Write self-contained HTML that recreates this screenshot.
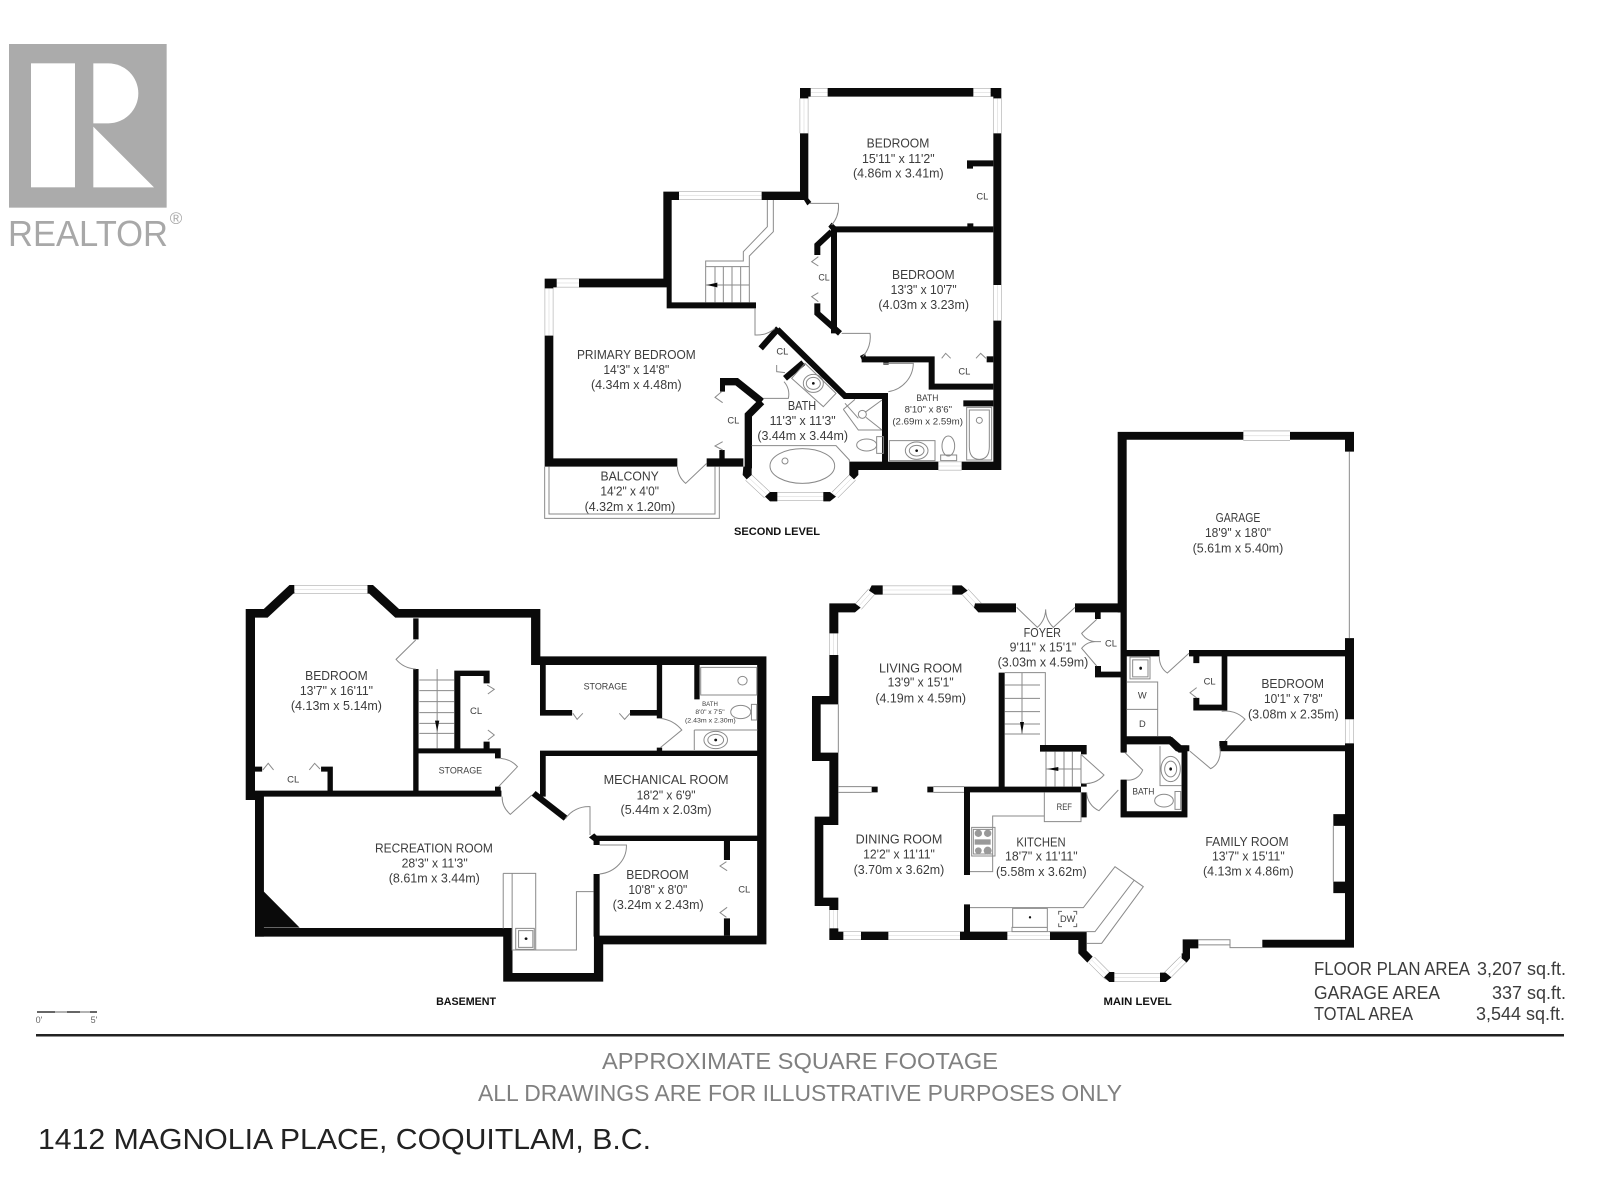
<!DOCTYPE html>
<html><head><meta charset="utf-8"><title>1412 Magnolia Place floor plan</title>
<style>
html,body{margin:0;padding:0;background:#fff}
svg{display:block}
text{font-family:"Liberation Sans",sans-serif;fill:#3c3c3c;text-anchor:middle}
.b{fill:#0a0a0a;stroke:none}
.s{fill:none;stroke:#0a0a0a;stroke-linejoin:miter}
.t{fill:none;stroke:#8a8a8a;stroke-width:1;vector-effect:non-scaling-stroke}
.k{fill:none;stroke:#666;stroke-width:1;vector-effect:non-scaling-stroke}
.wa{fill:none;stroke:#999;stroke-width:26}
.wb{fill:none;stroke:#fff;stroke-width:23}
.wc{fill:none;stroke:#bbb;stroke-width:1;vector-effect:non-scaling-stroke}
.l{font-size:38px}
.c{font-size:28px}
.h{font-weight:bold;fill:#111}
</style></head><body>
<svg xmlns="http://www.w3.org/2000/svg" width="1600" height="1200" viewBox="0 0 1600 1200">
<rect width="1600" height="1200" fill="#fff"/>

<!-- logo -->
<g transform="translate(0,30) scale(.3333)">
<rect x="27" y="42" width="473" height="491" fill="#ababab"/>
<rect x="93" y="100" width="132" height="372" fill="#fff"/>
<path d="M280 100H325A90 90 0 0 1 325 280H280Z" fill="#fff"/>
<path d="M280 290L462 472H280Z" fill="#fff"/>
</g>
<text x="88" y="246" font-size="36" textLength="160" lengthAdjust="spacingAndGlyphs" style="fill:#a8a8a8">REALTOR</text>
<text x="176" y="224" font-size="17" style="fill:#a8a8a8">®</text>

<!-- SECOND LEVEL -->
<g transform="translate(530,70) scale(.33333)">
<defs><g id="w1">
<path d="M842 67H893M1330 67H1382M822 85V190M1402 85V190M1402 645V752M447 377H695M80 639H147M57 655V797M1225 1188H1295M742 1280H880M655 1222L712 1275M915 1275L968 1222"/>
</g></defs>
<use href="#w1" class="wa"/><use href="#w1" class="wb"/><use href="#w1" class="wc"/>
<path class="b" d="M810 54H842V80H835V85H810ZM893 54H1330V80H893ZM1382 54H1414V85H1390V80H1382ZM810 190H835V390H810ZM695 365H835V390H695ZM400 365H447V390H425V697H678V715H410V652H147V626H400ZM44 626H80V652H70V655H44ZM44 797H70V1165H442V1190H44ZM530 1165H568V1140H584V1165H640V1190H530ZM958 1175H1225V1200H958ZM1295 1175H1414V1200H1295ZM1390 190H1414V645H1390ZM1390 752H1414V1200H1390ZM640 1190H665V1215L650 1228L638 1215ZM958 1175H985V1215L972 1228L958 1215ZM705 1280L720 1266H742V1294H720ZM880 1266H900L918 1280L900 1294H880ZM1312 460H1330V470H1312ZM822 390L835 385L844 396L832 406ZM905 458L918 470L905 482L895 470ZM990 858L1005 850L1010 868L998 875ZM1060 877H1076V884H1060ZM570 926H585V965H570Z"/>
<g class="s" style="stroke-width:22"><path d="M655 1195V1035L695 995"/><path d="M570 935H620L695 995"/></g>
<g class="s" style="stroke-width:18"><path d="M742 778L945 978H1065V1180"/><path d="M745 775L692 835"/><path d="M820 878L765 925"/><path d="M912 478V790"/><path d="M905 485L862 525V555"/><path d="M862 700V730L930 790"/><path d="M905 478H1390"/><path d="M1390 280H1320V296"/><path d="M995 868H1205V950H1390"/><path d="M1370 868H1390"/><path d="M1300 1000H1390"/></g>
<!-- doors -->
<path class="t" d="M840 400H925A85 85 0 0 1 905 465M935 790H1020A85 85 0 0 1 998 860M1060 880H1150A88 88 0 0 1 1075 965M675 715V795A85 85 0 0 0 735 775M700 985H775A55 55 0 0 0 762 935M530 1180L467 1240A70 70 0 0 1 442 1190M740 885V905L765 908"/>
<path class="t" d="M865 560L845 575L865 588M865 695L845 680L865 668M1235 865L1247 850L1262 865M1338 865L1352 850L1368 865M575 965L555 982L578 998M578 1115L555 1128L578 1140"/>
<!-- stairs -->
<path class="t" d="M712 390V470L640 545V573H527V697M730 390V485L658 558V697M527 590H658M555 590V697M580 590V697M606 590V697M632 590V697M527 645H658"/>
<path class="b" d="M530 645L562 638V652Z"/>
<!-- balcony -->
<path class="t" d="M44 1190V1345H568V1190M57 1190V1332H555V1190"/>
<!-- fixtures -->
<path class="t" d="M785 925L825 880L918 970L880 1010ZM940 1018L985 1080H1056M940 1018L975 988M997 1033L1056 990M985 1045L945 1000M1008 1042L1056 1080M665 1127H918L958 1170V1175M1060 1100V1150H1040V1100ZM1078 1112H1215V1172H1078ZM1232 1155H1280V1172H1232ZM1310 1012H1385V1170H1310ZM1318 1020H1378V1130Q1378 1168 1348 1168Q1318 1168 1318 1130Z"/>
<circle class="t" cx="997" cy="1033" r="12" style="fill:#fff"/>
<ellipse class="t" cx="850" cy="940" rx="30" ry="27"/><ellipse class="t" cx="850" cy="940" rx="21" ry="18"/><circle cx="850" cy="940" r="4" fill="#111"/>
<ellipse class="t" cx="817" cy="1188" rx="97" ry="52"/><circle class="t" cx="765" cy="1173" r="9"/>
<ellipse class="t" cx="1010" cy="1125" rx="30" ry="18"/>
<ellipse class="t" cx="1160" cy="1142" rx="34" ry="26"/><ellipse class="t" cx="1160" cy="1142" rx="22" ry="16"/><circle cx="1160" cy="1142" r="4" fill="#111"/>
<ellipse class="t" cx="1255" cy="1128" rx="19" ry="30"/><circle class="t" cx="1348" cy="1051" r="9"/>
<text class="l" x="1104" y="233" textLength="188" lengthAdjust="spacingAndGlyphs">BEDROOM</text>
<text class="l" x="1105" y="279" textLength="218" lengthAdjust="spacingAndGlyphs">15'11" x 11'2"</text>
<text class="l" x="1105" y="323" textLength="272" lengthAdjust="spacingAndGlyphs">(4.86m x 3.41m)</text>
<text class="c" x="1357" y="389" textLength="36" lengthAdjust="spacingAndGlyphs">CL</text>
<text class="l" x="1180" y="627" textLength="188" lengthAdjust="spacingAndGlyphs">BEDROOM</text>
<text class="l" x="1181" y="672" textLength="198" lengthAdjust="spacingAndGlyphs">13'3" x 10'7"</text>
<text class="l" x="1181" y="717" textLength="272" lengthAdjust="spacingAndGlyphs">(4.03m x 3.23m)</text>
<text class="c" x="882" y="632" textLength="34" lengthAdjust="spacingAndGlyphs">CL</text>
<text class="l" x="319" y="867" textLength="356" lengthAdjust="spacingAndGlyphs">PRIMARY BEDROOM</text>
<text class="l" x="319" y="912" textLength="198" lengthAdjust="spacingAndGlyphs">14'3" x 14'8"</text>
<text class="l" x="319" y="957" textLength="272" lengthAdjust="spacingAndGlyphs">(4.34m x 4.48m)</text>
<text class="c" x="757" y="853" textLength="36" lengthAdjust="spacingAndGlyphs">CL</text>
<text class="l" x="816" y="1020" textLength="85" lengthAdjust="spacingAndGlyphs">BATH</text>
<text class="l" x="818" y="1065" textLength="198" lengthAdjust="spacingAndGlyphs">11'3" x 11'3"</text>
<text class="l" x="818" y="1110" textLength="272" lengthAdjust="spacingAndGlyphs">(3.44m x 3.44m)</text>
<text class="c" x="610" y="1060" textLength="36" lengthAdjust="spacingAndGlyphs">CL</text>
<text class="c" x="1303" y="914" textLength="36" lengthAdjust="spacingAndGlyphs">CL</text>
<text font-size="27" x="1192" y="993" textLength="66" lengthAdjust="spacingAndGlyphs">BATH</text>
<text font-size="27" x="1195" y="1028" textLength="142" lengthAdjust="spacingAndGlyphs">8'10" x 8'6"</text>
<text font-size="27" x="1193" y="1063" textLength="212" lengthAdjust="spacingAndGlyphs">(2.69m x 2.59m)</text>
<text class="l" x="299" y="1232" textLength="175" lengthAdjust="spacingAndGlyphs">BALCONY</text>
<text class="l" x="299" y="1276" textLength="176" lengthAdjust="spacingAndGlyphs">14'2" x 4'0"</text>
<text class="l" x="300" y="1323" textLength="272" lengthAdjust="spacingAndGlyphs">(4.32m x 1.20m)</text>
<text class="h" font-size="33" x="741" y="1395" textLength="258" lengthAdjust="spacingAndGlyphs">SECOND LEVEL</text>
</g>

<!-- BASEMENT -->
<g transform="translate(230,570) scale(.35714,.33333)">
<defs><g id="w2"><path d="M180 58H385"/></g></defs>
<use href="#w2" class="wa"/><use href="#w2" class="wb"/><use href="#w2" class="wc"/>
<g class="s" style="stroke-width:26"><path d="M57 690V130H100L172 58H180"/><path d="M385 58H395L468 130H856V285"/><path d="M845 272H1489V1110H1032V1222H778V1087H70"/></g>
<path class="b" d="M70 680H95V1100H70ZM95 965L195 1073H95ZM45 662H760V680H45ZM273 590H288V662H273ZM255 590H288V605H255ZM70 590H90V605H70ZM513 145H528V208H513ZM513 297H528V662H513ZM628 303H645V535H628ZM628 302H727V318H628ZM710 318H727V340H710ZM528 535H758V550H528ZM742 550H758V565H742ZM710 515H727V535H710ZM742 650H758V662H742ZM868 285H884V437H868ZM868 420H958V437H868ZM868 545H884V680H868ZM1120 420H1210V437H1120ZM1195 285H1210V445H1195ZM1300 285H1315V388H1300ZM868 542H1477V558H868ZM1195 533H1210V542H1195ZM1020 797H1477V813H1020ZM1018 813H1035V825H1018ZM1005 802L1020 790L1035 805L1020 815ZM1018 912H1035V1100H1018ZM1383 813H1400V870H1383ZM1383 1045H1400V1097H1383Z"/>
<path class="s" style="stroke-width:18" d="M850 670L940 745"/>
<path class="t" d="M520 210L465 268A75 75 0 0 0 520 297M758 565A70 70 0 0 1 805 590L752 650M762 680A70 70 0 0 0 785 733L845 675M1205 445A90 90 0 0 1 1265 480L1205 533M940 745A75 75 0 0 1 1008 710V795M1035 825H1110A85 85 0 0 1 1035 912"/>
<path class="t" d="M720 345L740 358L722 372M722 480L740 495L722 510M960 430L972 448L988 430M1090 430L1105 448L1120 430M92 600L107 580L122 600M222 600L237 580L252 597M1390 875L1372 888L1392 902M1392 1012L1372 1028L1390 1042"/>
<path class="t" d="M530 330H628M530 362H628M530 395H628M530 428H628M530 460H628M530 490H628M580 297V535"/>
<path class="b" d="M580 485L574 452H586Z"/>
<path class="t" d="M765 910H856V1140M765 910V1075M790 910V1140H970V965H1018M800 1075H852V1138H800ZM808 1082H848V1132H808Z"/><circle cx="829" cy="1106" r="4" fill="#111"/>
<path class="t" d="M1318 292H1475V375H1318ZM1390 375H1475M1300 480H1477M1300 480V540M1460 403H1475V450H1460Z"/>
<circle class="t" cx="1435" cy="332" r="13"/><ellipse class="t" cx="1430" cy="426" rx="28" ry="20"/>
<ellipse class="t" cx="1360" cy="510" rx="33" ry="26"/><ellipse class="t" cx="1360" cy="510" rx="22" ry="17"/><circle cx="1360" cy="510" r="4" fill="#111"/>
<text class="l" x="298" y="330" textLength="175" lengthAdjust="spacingAndGlyphs">BEDROOM</text>
<text class="l" x="298" y="375" textLength="205" lengthAdjust="spacingAndGlyphs">13'7" x 16'11"</text>
<text class="l" x="298" y="420" textLength="255" lengthAdjust="spacingAndGlyphs">(4.13m x 5.14m)</text>
<text class="c" x="177" y="638" textLength="34" lengthAdjust="spacingAndGlyphs">CL</text>
<text class="c" x="689" y="432" textLength="34" lengthAdjust="spacingAndGlyphs">CL</text>
<text class="c" x="1051" y="358" textLength="122" lengthAdjust="spacingAndGlyphs">STORAGE</text>
<text class="c" x="645" y="611" textLength="122" lengthAdjust="spacingAndGlyphs">STORAGE</text>
<text font-size="18" x="1344" y="408" textLength="44" lengthAdjust="spacingAndGlyphs">BATH</text>
<text font-size="19" x="1344" y="432" textLength="82" lengthAdjust="spacingAndGlyphs">8'0" x 7'5"</text>
<text font-size="19" x="1345" y="458" textLength="142" lengthAdjust="spacingAndGlyphs">(2.43m x 2.30m)</text>
<text class="l" x="1221" y="642" textLength="350" lengthAdjust="spacingAndGlyphs">MECHANICAL ROOM</text>
<text class="l" x="1221" y="688" textLength="165" lengthAdjust="spacingAndGlyphs">18'2" x 6'9"</text>
<text class="l" x="1221" y="732" textLength="255" lengthAdjust="spacingAndGlyphs">(5.44m x 2.03m)</text>
<text class="l" x="571" y="847" textLength="330" lengthAdjust="spacingAndGlyphs">RECREATION ROOM</text>
<text class="l" x="573" y="892" textLength="185" lengthAdjust="spacingAndGlyphs">28'3" x 11'3"</text>
<text class="l" x="572" y="937" textLength="255" lengthAdjust="spacingAndGlyphs">(8.61m x 3.44m)</text>
<text class="l" x="1197" y="927" textLength="175" lengthAdjust="spacingAndGlyphs">BEDROOM</text>
<text class="l" x="1198" y="972" textLength="165" lengthAdjust="spacingAndGlyphs">10'8" x 8'0"</text>
<text class="l" x="1199" y="1017" textLength="255" lengthAdjust="spacingAndGlyphs">(3.24m x 2.43m)</text>
<text class="c" x="1440" y="968" textLength="34" lengthAdjust="spacingAndGlyphs">CL</text>
<text class="h" font-size="33" x="661" y="1305" textLength="168" lengthAdjust="spacingAndGlyphs">BASEMENT</text>
</g>

<!-- MAIN LEVEL west -->
<g transform="translate(800,570) scale(.33333)">
<defs><g id="w3"><path d="M101 190V255M248 60H457M175 110L215 65M495 65L535 108M101 1020V1075M130 1097H183M265 1097H480M622 1097H750M875 1170L925 1220M943 1222H1080M1100 1218L1150 1168"/></g></defs>
<use href="#w3" class="wa"/><use href="#w3" class="wb"/><use href="#w3" class="wc"/>
<path class="b" d="M88 100H165L182 113L165 127H115V190H88ZM88 255H115V380H88ZM36 378H115V403H62V548H115V765H70V983H115V1020H88V1008H44V740H88V573H36ZM215 46H248V74H225L207 62ZM457 46H485L503 62L485 74H457ZM525 100H648V127H535L522 113ZM825 100H955V0H980V240H1078V258H980V548H962V127H902V147H885V127H825ZM88 1075H115V1085H130V1110H88ZM183 1085H265V1110H183ZM480 1085H622V1110H480ZM750 1085H860V1142L878 1160L862 1178L835 1150V1110H750ZM912 1222L928 1206H943V1236H928ZM1080 1208H1097L1114 1222L1097 1236H1080ZM1148 1108H1195V1135H1170V1165L1160 1178L1145 1165V1150H1148ZM885 288H903V305H965V322H885ZM596 308H614V650H860V640H843V667H860V742H843V667H510V915H492V650H596ZM492 1003H510V1095H492ZM720 525H860V553H843V545H720ZM215 650H233V667H215ZM382 650H400V667H382ZM962 630H980V725H1145V548H1162V742H962Z"/>
<path class="s" style="stroke-width:22" d="M970 512H1112L1140 537H1162"/>
<path class="t" d="M845 555L912 615A72 72 0 0 1 845 640M955 660L897 722A62 62 0 0 1 860 667M975 548L1028 600A45 45 0 0 1 980 630M650 112L712 172A75 75 0 0 0 737 118A75 75 0 0 0 760 172L825 112M890 148L845 190A50 50 0 0 0 890 215H903M890 288L845 235A50 50 0 0 1 890 215"/>
<path class="t" d="M115 650H215M115 667H215M400 650H492M400 667H492M115 403V548"/>
<path class="t" d="M614 308H736V525M614 345H720M614 385H720M614 425H720M614 462H720M614 492H720M666 308V492M738 545V650M765 545V650M792 545V650M817 545V650M843 553V640M738 597H843"/>
<path class="b" d="M666 490L660 456H672ZM742 597L775 591V603Z"/>
<path class="t" d="M733 667V755H843V667M733 738H578V905H510M515 772H585V858H515ZM520 778H578V852H520Z"/>
<circle cx="535" cy="790" r="11" fill="#999"/><circle cx="563" cy="790" r="11" fill="#999"/><circle cx="535" cy="842" r="10" fill="#999"/><circle cx="563" cy="842" r="12" fill="#999"/><rect x="524" y="808" width="48" height="16" fill="#999"/>
<path class="t" d="M510 1013H850L945 890L1030 950L905 1120H860M1003 930L885 1085H745M638 1015H742V1072H638ZM636 1072H742V1085H636Z"/><circle cx="690" cy="1042" r="3.5" fill="#111"/>
<path class="k" d="M776 1034V1024H786M820 1024H830V1034M776 1060V1070H786M820 1070H830V1060"/>
<text class="l" x="727" y="201" textLength="112" lengthAdjust="spacingAndGlyphs">FOYER</text>
<text class="l" x="729" y="245" textLength="200" lengthAdjust="spacingAndGlyphs">9'11" x 15'1"</text>
<text class="l" x="729" y="290" textLength="272" lengthAdjust="spacingAndGlyphs">(3.03m x 4.59m)</text>
<text class="c" x="933" y="229" textLength="36" lengthAdjust="spacingAndGlyphs">CL</text>
<text class="l" x="362" y="307" textLength="250" lengthAdjust="spacingAndGlyphs">LIVING ROOM</text>
<text class="l" x="362" y="350" textLength="198" lengthAdjust="spacingAndGlyphs">13'9" x 15'1"</text>
<text class="l" x="362" y="397" textLength="272" lengthAdjust="spacingAndGlyphs">(4.19m x 4.59m)</text>
<text class="l" x="297" y="821" textLength="260" lengthAdjust="spacingAndGlyphs">DINING ROOM</text>
<text class="l" x="297" y="866" textLength="215" lengthAdjust="spacingAndGlyphs">12'2" x 11'11"</text>
<text class="l" x="297" y="912" textLength="272" lengthAdjust="spacingAndGlyphs">(3.70m x 3.62m)</text>
<text class="l" x="723" y="829" textLength="148" lengthAdjust="spacingAndGlyphs">KITCHEN</text>
<text class="l" x="724" y="872" textLength="218" lengthAdjust="spacingAndGlyphs">18'7" x 11'11"</text>
<text class="l" x="724" y="918" textLength="272" lengthAdjust="spacingAndGlyphs">(5.58m x 3.62m)</text>
<text class="c" x="793" y="720" textLength="46" lengthAdjust="spacingAndGlyphs">REF</text>
<text class="c" x="1027" y="385">W</text>
<text class="c" x="1027" y="471">D</text>
<text class="c" x="1030" y="673" textLength="66" lengthAdjust="spacingAndGlyphs">BATH</text>
<text class="c" x="803" y="1056" textLength="46" lengthAdjust="spacingAndGlyphs">DW</text>
<text class="h" font-size="33" x="1013" y="1305" textLength="205" lengthAdjust="spacingAndGlyphs">MAIN LEVEL</text>
</g>

<!-- MAIN LEVEL east -->
<g transform="translate(1080,420) scale(.33333,.39526)">
<defs><g id="w4"><path d="M490 40H630M808 757V818"/></g></defs>
<use href="#w4" class="wa"/><use href="#w4" class="wb"/><use href="#w4" class="wc"/>
<path class="b" d="M113 30H490V50H140V582H238V598H140V840H122V487H113ZM630 30H822V80H795V50H630ZM795 552H822V757H795ZM795 818H822V1335H547V1315H795V1197H760V1168H795V1027H760V997H795ZM327 582H795V598H442V735H340V703H358V720H425V598H358V615H340V598H327ZM418 812H442V823H795V838H420V825H418ZM272 800L295 823H328V838H322V1005H122V910H140V990H305V838H288L265 818H140V800Z"/>
<path class="t" d="M238 598A45 45 0 0 0 262 640L327 590M425 737A90 90 0 0 1 495 757L435 812M330 838L392 882A45 45 0 0 0 418 825M350 677L330 690L350 703M808 80V552M760 1027V1168M355 1315H450V1335H547M355 1328H450M150 600H210V655H150ZM158 607H204V650H158ZM140 663H233V800M140 732H233M240 825V925H305M285 940H302V985H285Z"/>
<circle cx="182" cy="628" r="4" fill="#111"/>
<ellipse class="t" cx="272" cy="883" rx="29" ry="32"/><ellipse class="t" cx="272" cy="883" rx="18" ry="20"/><circle cx="272" cy="883" r="4" fill="#111"/>
<ellipse class="t" cx="252" cy="963" rx="28" ry="16"/>
<g style="font-size:32px">
<text x="474" y="258" textLength="134" lengthAdjust="spacingAndGlyphs">GARAGE</text>
<text x="474" y="296" textLength="198" lengthAdjust="spacingAndGlyphs">18'9" x 18'0"</text>
<text x="474" y="335" textLength="272" lengthAdjust="spacingAndGlyphs">(5.61m x 5.40m)</text>
<text x="638" y="678" textLength="188" lengthAdjust="spacingAndGlyphs">BEDROOM</text>
<text x="640" y="716" textLength="176" lengthAdjust="spacingAndGlyphs">10'1" x 7'8"</text>
<text x="640" y="755" textLength="272" lengthAdjust="spacingAndGlyphs">(3.08m x 2.35m)</text>
<text x="501" y="1078" textLength="250" lengthAdjust="spacingAndGlyphs">FAMILY ROOM</text>
<text x="505" y="1115" textLength="218" lengthAdjust="spacingAndGlyphs">13'7" x 15'11"</text>
<text x="505" y="1153" textLength="272" lengthAdjust="spacingAndGlyphs">(4.13m x 4.86m)</text>
</g>
<text x="389" y="669" font-size="24" textLength="36" lengthAdjust="spacingAndGlyphs">CL</text>
</g>

<!-- area table -->
<g font-size="18">
<text x="1314" y="975" textLength="156" lengthAdjust="spacingAndGlyphs" style="text-anchor:start">FLOOR PLAN AREA</text>
<text x="1477" y="975" textLength="89" lengthAdjust="spacingAndGlyphs" style="text-anchor:start">3,207 sq.ft.</text>
<text x="1314" y="999" textLength="126" lengthAdjust="spacingAndGlyphs" style="text-anchor:start">GARAGE AREA</text>
<text x="1492" y="999" textLength="74" lengthAdjust="spacingAndGlyphs" style="text-anchor:start">337 sq.ft.</text>
<text x="1314" y="1020" textLength="99" lengthAdjust="spacingAndGlyphs" style="text-anchor:start">TOTAL AREA</text>
<text x="1476" y="1020" textLength="89" lengthAdjust="spacingAndGlyphs" style="text-anchor:start">3,544 sq.ft.</text>
</g>

<!-- scale bar -->
<path d="M37 1012H55M67 1012H80M90 1012H97" stroke="#333" stroke-width="1.5" fill="none"/>
<path d="M55 1012H67M80 1012H90" stroke="#999" stroke-width="1.5" fill="none"/>
<text x="39" y="1023" font-size="9" style="fill:#666">0'</text>
<text x="94" y="1023" font-size="9" style="fill:#666">5'</text>

<!-- footer -->
<rect x="36" y="1034" width="1528" height="2.5" fill="#222"/>
<text x="800" y="1069" font-size="23" textLength="396" lengthAdjust="spacingAndGlyphs" style="fill:#808080">APPROXIMATE SQUARE FOOTAGE</text>
<text x="800" y="1101" font-size="23" textLength="644" lengthAdjust="spacingAndGlyphs" style="fill:#808080">ALL DRAWINGS ARE FOR ILLUSTRATIVE PURPOSES ONLY</text>
<text x="344.500" y="1149" font-size="29" textLength="613" lengthAdjust="spacingAndGlyphs" style="fill:#222">1412 MAGNOLIA PLACE, COQUITLAM, B.C.</text>
</svg>
</body></html>
